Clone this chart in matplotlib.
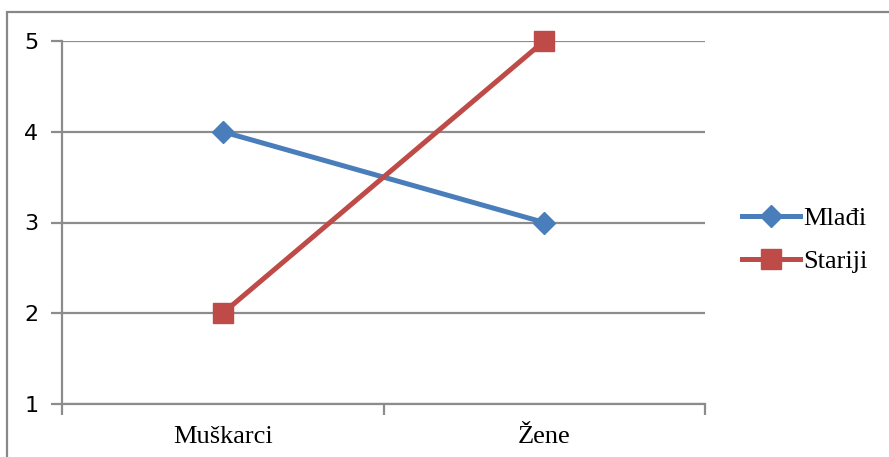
import matplotlib.pyplot as plt
from matplotlib.lines import Line2D
from matplotlib.patches import Rectangle

categories = ['Muškarci', 'Žene']
mladi = [4, 3]
stariji = [2, 5]
series_names = ['Mlađi', 'Stariji']
y_ticks = [1, 2, 3, 4, 5]

blue = '#4A7EBB'
red = '#BE4B48'
grid_col = '#8C8C8C'

fig = plt.figure(figsize=(8.89, 4.57), dpi=100)
W, H = 889, 457

# outer chart frame (only top and left visible in the crop)
fig.patches.append(Rectangle((6.5 / W, -0.1), 1.2, 1 - 11.5 / H + 0.1,
                             transform=fig.transFigure, fill=False,
                             edgecolor='#888888', lw=1.6))

ax = fig.add_axes([62 / W, 1 - 404 / H, (705 - 62) / W, (404 - 41) / H])

x = [0.5, 1.5]
ax.plot(x, mladi, color=blue, lw=3.6, marker='D', ms=11,
        markeredgecolor=blue, markerfacecolor=blue, zorder=3, clip_on=False)
ax.plot(x, stariji, color=red, lw=3.6, marker='s', ms=14,
        markeredgecolor=red, markerfacecolor=red, zorder=3, clip_on=False)

ax.set_xlim(0, 2)
ax.set_ylim(1, 5)
ax.set_yticks(y_ticks)
ax.set_yticklabels([str(v) for v in y_ticks], fontsize=16,
                   family='DejaVu Sans')
for v in y_ticks:
    ax.axhline(v, color=grid_col, lw=1.6, zorder=1)

ax.set_xticks([0, 1, 2])
ax.set_xticklabels([])
ax.set_xticks(x, minor=True)
ax.set_xticklabels(categories, minor=True, fontsize=19,
                   family='Liberation Serif')
ax.tick_params(axis='x', which='minor', length=0, pad=16)
ax.tick_params(axis='x', which='major', length=8, width=1.6,
               color=grid_col, direction='out')
ax.tick_params(axis='y', length=8, width=1.6, color=grid_col, pad=9,
               direction='out')

for side in ['top', 'right']:
    ax.spines[side].set_visible(False)
ax.spines['left'].set_color(grid_col)
ax.spines['left'].set_linewidth(1.6)
ax.spines['bottom'].set_color(grid_col)
ax.spines['bottom'].set_linewidth(1.6)

handles = [
    Line2D([], [], color=blue, lw=3.6, marker='D', ms=11),
    Line2D([], [], color=red, lw=3.6, marker='s', ms=14),
]
fig.legend(handles, series_names, loc='center left',
           bbox_to_anchor=(729 / W, 1 - 240 / H), frameon=False,
           prop={'family': 'Liberation Serif', 'size': 19},
           handlelength=2.2, handletextpad=0.1, labelspacing=0.75,
           borderpad=0)

fig.savefig('out.png', dpi=100)
